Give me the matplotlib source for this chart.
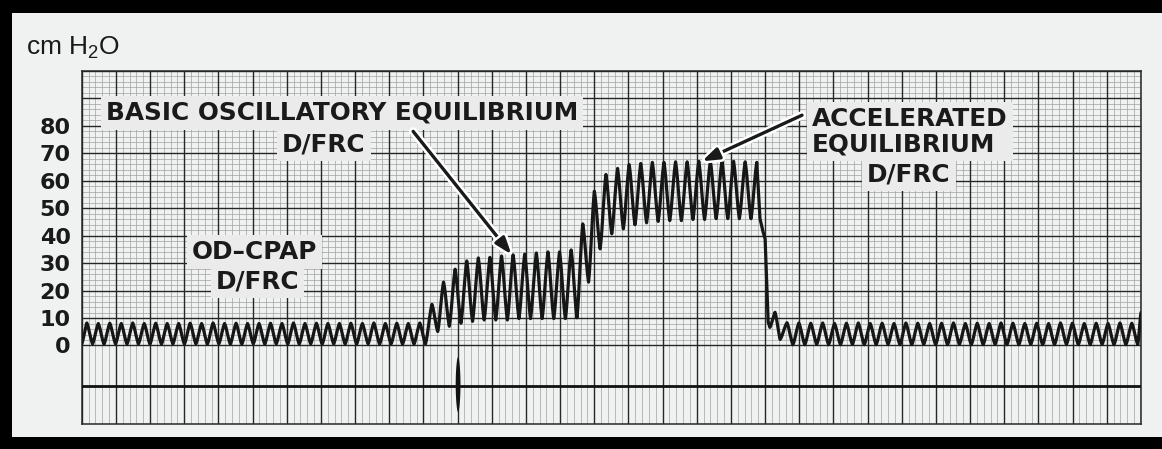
import numpy as np
import matplotlib
matplotlib.use("Agg")
import matplotlib.pyplot as plt
from matplotlib import patheffects as pe

# ---------------- data (read from the strip-chart recording) ----------------
# x axis: chart-paper major divisions (0 .. 31); y axis: cm H2O
y_ticks = [0, 10, 20, 30, 40, 50, 60, 70, 80]
y_tick_labels = ["0", "10", "20", "30", "40", "50", "60", "70", "80"]

# OD-CPAP phase (baseline oscillation)
cpap_start_value = 0.5
cpap_first_peak_t = 0.15
cpap_period = 0.336
cpap_peaks = [8.2, 8.0, 8.1, 8.0, 8.2, 8.0, 8.1, 8.0, 8.0, 8.1,
              8.0, 8.2, 8.0, 8.1, 8.0, 8.0, 8.1, 8.0, 8.2, 8.0,
              8.1, 8.0, 8.0, 8.1, 8.0, 8.2, 8.0, 8.1, 8.0, 8.2]
cpap_troughs = [0.6, 0.5, 0.6, 0.5, 0.6, 0.5, 0.5, 0.6, 0.5, 0.6,
                0.5, 0.6, 0.5, 0.5, 0.6, 0.5, 0.6, 0.5, 0.5, 0.6,
                0.5, 0.6, 0.5, 0.5, 0.6, 0.5, 0.6, 0.5, 0.5, 0.6]

# Basic oscillatory equilibrium phase
basic_first_peak_t = 10.25
osc_period = 0.3395
basic_peaks = [15.0, 23.1, 27.8, 30.8, 31.9, 32.1, 32.6, 33.0, 33.3, 33.7,
               34.1, 34.1, 34.8]
basic_troughs = [5.1, 7.0, 8.1, 8.8, 9.3, 9.3, 9.3, 9.8, 9.8, 9.8,
                 9.8, 9.8, 10.1]

# Accelerated equilibrium phase
accel_peaks = [44.3, 56.2, 62.3, 64.5, 65.9, 66.3, 66.7, 66.7, 66.9, 66.9,
               67.1, 67.1, 67.1, 67.1, 66.9, 66.7]
accel_troughs = [23.1, 35.2, 40.7, 42.5, 44.0, 44.7, 45.2, 45.5, 45.5, 45.9,
                 45.9, 46.2, 46.2, 46.2, 46.2]

# Release (pressure drop)
release_t = [19.85, 19.94, 20.00, 20.09]
release_v = [46.2, 41.4, 38.8, 8.4]
settle_t = [20.14, 20.29, 20.44]
settle_v = [6.6, 12.1, 2.2]

# Recovery (back to OD-CPAP oscillation)
recovery_first_peak_t = 20.64
recovery_period = 0.348
recovery_peaks = [8.3, 8.2, 8.1, 8.2, 8.0, 8.1, 8.2, 8.0, 8.1, 8.0,
                  8.2, 8.1, 8.0, 8.1, 8.2, 8.0, 8.1, 8.0, 8.2, 8.1,
                  8.0, 8.1, 8.0, 8.2, 8.1, 8.0, 8.1, 8.0, 8.2, 8.1]
recovery_troughs = [0.3, 0.3, 0.4, 0.3, 0.3, 0.4, 0.3, 0.3, 0.4, 0.3,
                    0.3, 0.4, 0.3, 0.3, 0.4, 0.3, 0.3, 0.4, 0.3, 0.3,
                    0.4, 0.3, 0.3, 0.4, 0.3, 0.3, 0.4, 0.3, 0.3, 0.4]
end_t, end_v = 31.0, 12.0

# event marker / time line
event_t = 11.0
event_span = (-4.0, -24.1)
time_line_v = -14.6

X_MAX = 31
Y_MIN, Y_MAX = -28.6, 100

# ---------------- helpers ----------------
def osc_points(t0, period, peaks, troughs):
    pts = []
    for i, p in enumerate(peaks):
        tp = t0 + i * period
        pts.append((tp, p))
        if i < len(troughs):
            pts.append((tp + period / 2, troughs[i]))
    return pts


def eased(pts, n=14, mix=0.45):
    """Join turning points with a blend of straight and cosine strokes."""
    ts, vs = [], []
    for (ta, va), (tb, vb) in zip(pts[:-1], pts[1:]):
        s = np.linspace(0, 1, n, endpoint=False)
        shape = (1 - mix) * s + mix * (1 - np.cos(np.pi * s)) / 2
        ts.append(ta + s * (tb - ta))
        vs.append(va + (vb - va) * shape)
    ts.append([pts[-1][0]])
    vs.append([pts[-1][1]])
    return np.concatenate(ts), np.concatenate(vs)


# build trace
part_a = [(0.0, cpap_start_value)]
part_a += osc_points(cpap_first_peak_t, cpap_period, cpap_peaks, cpap_troughs)
part_a += osc_points(basic_first_peak_t, osc_period, basic_peaks, basic_troughs)
accel_first_t = basic_first_peak_t + len(basic_peaks) * osc_period
part_a += osc_points(accel_first_t, osc_period, accel_peaks, accel_troughs)
ta, va = eased(part_a)

tb = np.array([part_a[-1][0]] + release_t)
vb = np.array([part_a[-1][1]] + release_v)

part_c = [(release_t[-1], release_v[-1])] + list(zip(settle_t, settle_v))
part_c += osc_points(recovery_first_peak_t, recovery_period, recovery_peaks, recovery_troughs)
part_c += [(end_t, end_v)]
tc, vc = eased(part_c)

trace_t = np.concatenate([ta, tb[1:], tc[1:]])
trace_v = np.concatenate([va, vb[1:], vc[1:]])

# ---------------- figure ----------------
W, H = 1162, 449
fig = plt.figure(figsize=(W / 100, H / 100), dpi=100)
fig.patch.set_facecolor("black")

paper_col = "#f0f1f1"
paper = fig.add_axes([12 / W, (H - 437) / H, (W - 12) / W, (437 - 13) / H])
paper.set_facecolor(paper_col)
paper.set_xticks([]); paper.set_yticks([])
for s in paper.spines.values():
    s.set_visible(False)

ax = fig.add_axes([81.7 / W, (H - 424) / H, (1141 - 81.7) / W, (424 - 71) / H])
ax.set_facecolor(paper_col)
ax.set_xlim(0, X_MAX)
ax.set_ylim(Y_MIN, Y_MAX)

major_col = "#262626"
minor_col = "#a0a2a2"

# minor grid
minor_x = [i / 5 for i in range(0, X_MAX * 5 + 1) if i % 5]
ax.vlines(minor_x, Y_MIN, Y_MAX, colors=minor_col, lw=0.5, zorder=1)
minor_y = [v for v in range(0, 101, 2) if v % 10]
ax.hlines(minor_y, 0, X_MAX, colors=minor_col, lw=0.5, zorder=1)
# major grid
ax.vlines(range(0, X_MAX + 1), Y_MIN, Y_MAX, colors=major_col, lw=1.0, zorder=2)
ax.hlines(range(0, 101, 10), 0, X_MAX, colors=major_col, lw=1.0, zorder=2)

for s in ax.spines.values():
    s.set_color(major_col)
    s.set_linewidth(1.1)

# time line and event marker
ax.axhline(time_line_v, color="#111111", lw=2.0, zorder=3)
yy = np.linspace(event_span[1], event_span[0], 60)
s_ = (yy - event_span[1]) / (event_span[0] - event_span[1])
half_w = 0.07 * np.sin(np.pi * s_) ** 0.5
ax.fill_betweenx(yy, event_t - half_w, event_t + half_w, color="#111111", lw=0, zorder=4)

# pressure trace
ax.plot(trace_t, trace_v, color="#161616", lw=2.3, solid_joinstyle="round",
        solid_capstyle="round", zorder=5)

# ticks
ax.set_xticks([])
ax.set_yticks(y_ticks)
ax.set_yticklabels(y_tick_labels)
ax.tick_params(axis="y", length=0, pad=8)
for lab in ax.get_yticklabels():
    lab.set_fontfamily("DejaVu Sans")
    lab.set_fontweight("bold")
    lab.set_fontsize(16)
    lab.set_color("#1a1a1a")

fig.text(26 / W, 1 - 48 / H, r"cm H$_\mathregular{2}$O", fontsize=19,
         family="Liberation Sans", color="#1a1a1a", va="center", ha="left")

# labels
box = dict(boxstyle="square,pad=0.2", facecolor="#ebebeb", edgecolor="none")
tkw = dict(family="DejaVu Sans", fontweight="bold", fontsize=17.8,
           color="#1a1a1a", zorder=6, bbox=box)

ax.text(7.63, 84.7, "BASIC OSCILLATORY EQUILIBRIUM", ha="center", va="center", **tkw)
ax.text(7.09, 73.3, "D/FRC", ha="center", va="center", **tkw)
ax.text(21.37, 78.0, "ACCELERATED\nEQUILIBRIUM", ha="left", va="center",
        linespacing=1.07, **tkw)
ax.text(24.21, 62.4, "D/FRC", ha="center", va="center", **tkw)
ax.text(5.06, 34.2, "OD\u2013CPAP", ha="center", va="center", **tkw)
ax.text(5.14, 23.3, "D/FRC", ha="center", va="center", **tkw)

# arrows
halo = [pe.withStroke(linewidth=6, foreground="white")]
akw = dict(arrowstyle="-|>,head_length=1.0,head_width=0.35", color="#1a1a1a", lw=2.4,
           shrinkA=0, shrinkB=0)
a1 = ax.annotate("", xy=(12.58, 33.1), xytext=(9.70, 78.0), arrowprops=akw, zorder=7)
a1.arrow_patch.set_path_effects(halo)
a2 = ax.annotate("", xy=(18.15, 67.1), xytext=(21.08, 83.9), arrowprops=akw, zorder=7)
a2.arrow_patch.set_path_effects(halo)

fig.savefig("out.png", dpi=100, facecolor=fig.get_facecolor())
